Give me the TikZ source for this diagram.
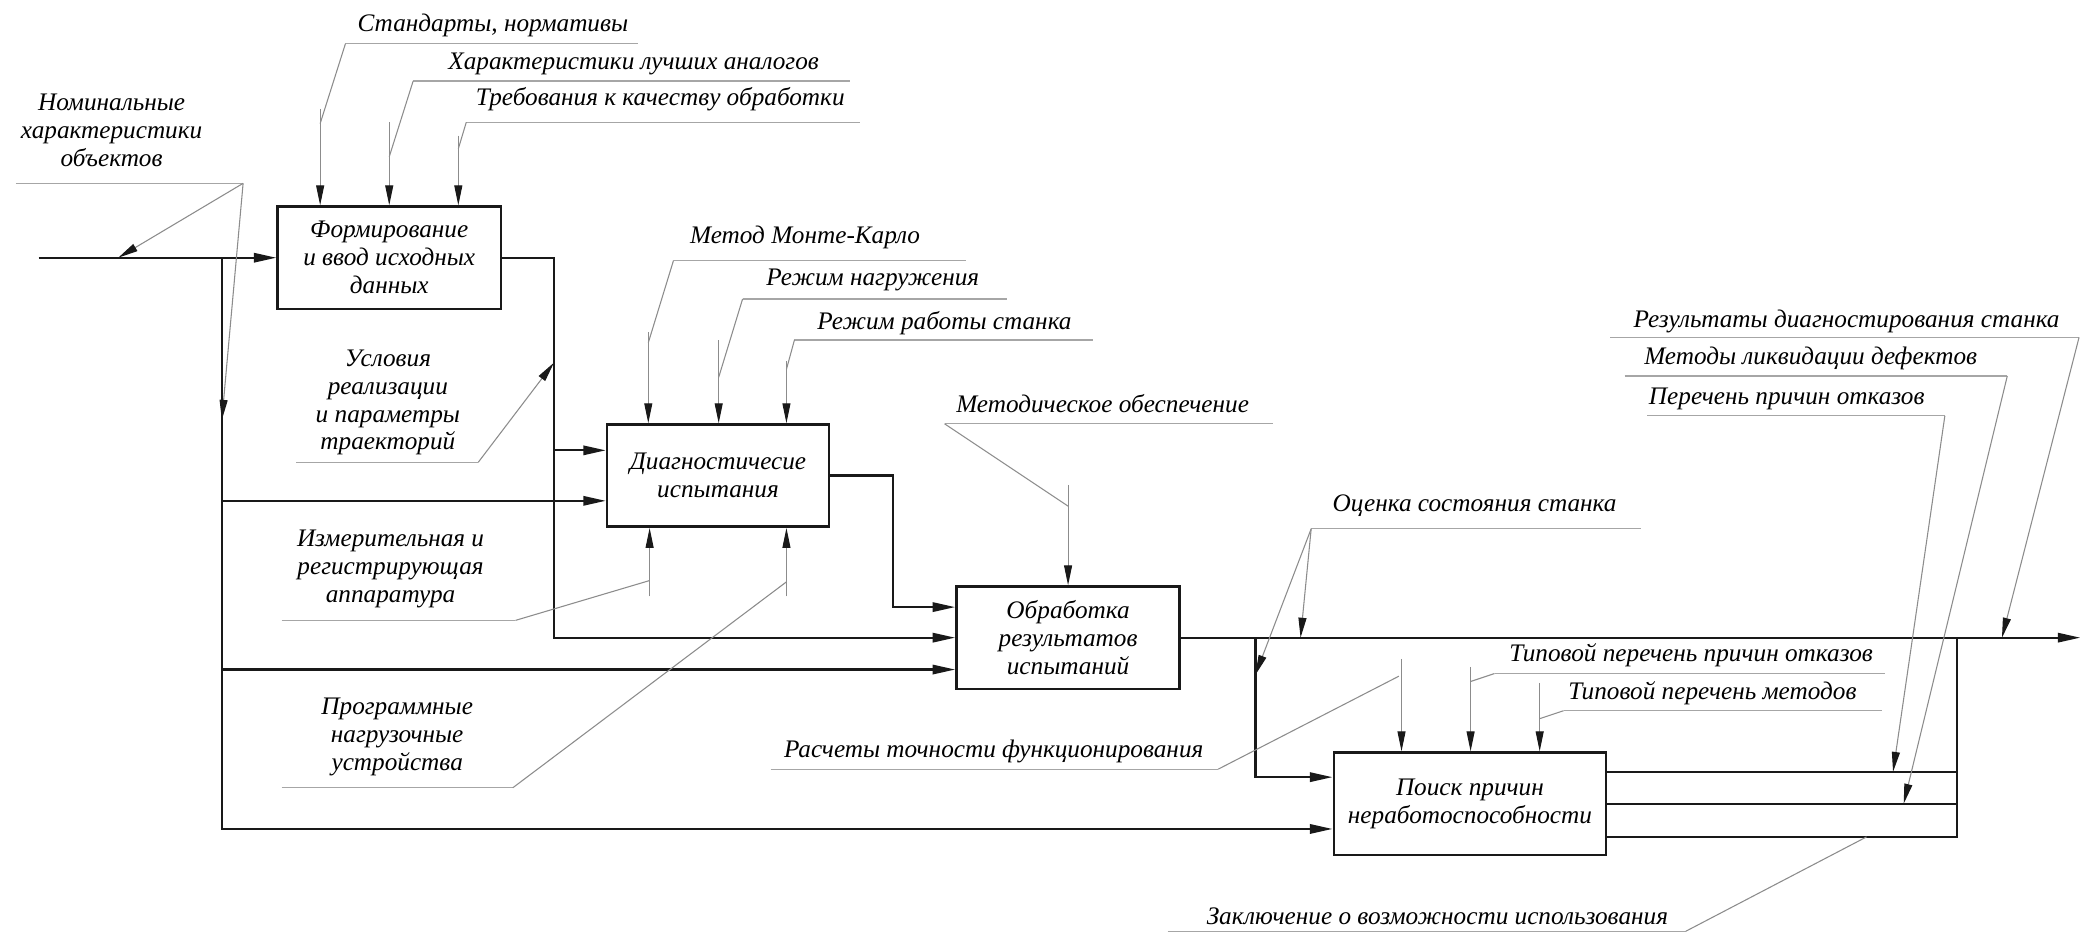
\documentclass[tikz,border=0pt]{standalone}
\usepackage{fontspec}
\setmainfont{Liberation Serif}
\usetikzlibrary{arrows.meta,calc}
\begin{document}
\begin{tikzpicture}[x=1pt,y=-1pt,
  font=\fontsize{19}{21}\selectfont\itshape,
  box/.style={draw=black!90,line width=1.9pt,minimum width=#1,minimum height=77pt,inner sep=0pt,align=center,text=black},
  lbl/.style={inner sep=0pt,align=center,text=black},
  flow/.style={line width=1.7pt,draw=black!90},
  flowa/.style={flow,-{Triangle[length=17pt,width=7pt]}},
  lead/.style={line width=0.8pt,draw=black!45},
  leada/.style={lead,-{Triangle[length=15pt,width=6pt,color=black!90]}},
  uline/.style={line width=0.9pt,draw=black!35}
]
\fill[white] (0,0) rectangle (1568,702);
\useasboundingbox (0,0) rectangle (1568,702);

% ---------- boxes
\node[box=168pt] (B1) at (293,194) {Формирование\\и ввод исходных\\данных};
\node[box=167pt] (B2) at (540.5,358) {Диагностичесие\\испытания};
\node[box=168pt] (B3) at (804,480) {Обработка\\результатов\\испытаний};
\node[box=205pt] (B4) at (1106.5,605) {Поиск причин\\неработоспособности};

% ---------- flow coordinates
\coordinate (in0) at (29,194);
\coordinate (jA) at (167,194);
\coordinate (a377) at (167,377);
\coordinate (a504) at (167,504);
\coordinate (jAb) at (167,624);
\coordinate (jB) at (417,194);
\coordinate (b339) at (417,339);
\coordinate (jBb) at (417,480);
\coordinate (jC) at (672,358);
\coordinate (jCb) at (672,457);
\coordinate (out) at (1566,480);
\coordinate (jD) at (945,480);
\coordinate (jDb) at (945,585);
\coordinate (bus) at (1473,480);
\coordinate (o1) at (1473,581);
\coordinate (o2) at (1473,605);
\coordinate (o3) at (1473,630);

% ---------- flows
\draw[flowa] (in0) -- (B1.west);
\draw[flowa] (jA) -- (jAb) -- (jAb -| B4.west);
\draw[flowa] (a377) -- (a377 -| B2.west);
\draw[flowa] (a504) -- (a504 -| B3.west);
\draw[flowa] (B1.east) -- (jB) -- (jBb) -- (B3.west);
\draw[flowa] (b339) -- (b339 -| B2.west);
\draw[flowa] (B2.east) -- (jC) -- (jCb) -- (jCb -| B3.west);
\draw[flowa] (B3.east) -- (out);
\draw[flowa] (jD) -- (jDb) -- (jDb -| B4.west);
\draw[flow] (o1 -| B4.east) -- (o1);
\draw[flow] (o2 -| B4.east) -- (o2);
\draw[flow] (o3 -| B4.east) -- (o3) -- (bus);

% ---------- labels
% 1
\node[lbl] (tSt) at (371,19) {Стандарты, нормативы};
\coordinate (uSt1) at (260,33); \coordinate (uSt2) at (480,33);
\coordinate (kSt) at (241,93); \coordinate (vSt) at (241,82);
\draw[uline] (uSt1) -- (uSt2);
\draw[lead] (uSt1) -- (kSt);
\draw[leada] (vSt) -- (vSt |- B1.north);
% 2
\node[lbl] (tXa) at (477,48) {Характеристики лучших аналогов};
\coordinate (uXa1) at (311,61); \coordinate (uXa2) at (640,61);
\coordinate (kXa) at (293,118); \coordinate (vXa) at (293,92);
\draw[uline] (uXa1) -- (uXa2);
\draw[lead] (uXa1) -- (kXa);
\draw[leada] (vXa) -- (vXa |- B1.north);
% 3
\node[lbl] (tTr) at (497,75) {Требования к качеству обработки};
\coordinate (uTr1) at (351,92); \coordinate (uTr2) at (647,92);
\coordinate (kTr) at (345,112); \coordinate (vTr) at (345,102);
\draw[uline] (uTr1) -- (uTr2);
\draw[lead] (uTr1) -- (kTr);
\draw[leada] (vTr) -- (vTr |- B1.north);
% 4
\node[lbl] (tNom) at (84,98) {Номинальные\\характеристики\\объектов};
\coordinate (uNo1) at (12,138); \coordinate (uNo2) at (183,138);
\coordinate (pNo1) at (89,194); \coordinate (pNo2) at (167,316);
\draw[uline] (uNo1) -- (uNo2);
\draw[leada] (uNo2) -- (pNo1);
\draw[leada] (uNo2) -- (pNo2);
% 5
\node[lbl] (tUs) at (292,303) {Условия\\реализации\\и параметры\\траекторий};
\coordinate (uUs1) at (223,348); \coordinate (uUs2) at (360,348);
\coordinate (pUs) at (417,273);
\draw[uline] (uUs1) -- (uUs2);
\draw[leada] (uUs2) -- (pUs);
% 6
\node[lbl] (tIz) at (294,428) {Измерительная и\\регистрирующая\\аппаратура};
\coordinate (uIz1) at (212,467); \coordinate (uIz2) at (388,467);
\coordinate (kIz) at (489,437); \coordinate (vIz) at (489,449);
\draw[uline] (uIz1) -- (uIz2);
\draw[lead] (uIz2) -- (kIz);
\draw[leada] (vIz) -- (vIz |- B2.south);
% 7
\node[lbl] (tPr) at (299,555) {Программные\\нагрузочные\\устройства};
\coordinate (uPr1) at (212,593); \coordinate (uPr2) at (386,593);
\coordinate (kPr) at (592,438); \coordinate (vPr) at (592,449);
\draw[uline] (uPr1) -- (uPr2);
\draw[lead] (uPr2) -- (kPr);
\draw[leada] (vPr) -- (vPr |- B2.south);
% 8
\node[lbl] (tMK) at (606,179) {Метод Монте-Карло};
\coordinate (uMK1) at (507,196); \coordinate (uMK2) at (727,196);
\coordinate (kMK) at (488,258); \coordinate (vMK) at (488,250);
\draw[uline] (uMK1) -- (uMK2);
\draw[lead] (uMK1) -- (kMK);
\draw[leada] (vMK) -- (vMK |- B2.north);
% 9
\node[lbl] (tRn) at (657,211) {Режим нагружения};
\coordinate (uRn1) at (559,225); \coordinate (uRn2) at (758,225);
\coordinate (kRn) at (541,284); \coordinate (vRn) at (541,256);
\draw[uline] (uRn1) -- (uRn2);
\draw[lead] (uRn1) -- (kRn);
\draw[leada] (vRn) -- (vRn |- B2.north);
% 10
\node[lbl] (tRr) at (711,243) {Режим работы станка};
\coordinate (uRr1) at (598,256); \coordinate (uRr2) at (823,256);
\coordinate (kRr) at (592,278); \coordinate (vRr) at (592,272);
\draw[uline] (uRr1) -- (uRr2);
\draw[lead] (uRr1) -- (kRr);
\draw[leada] (vRr) -- (vRr |- B2.north);
% 11
\node[lbl] (tMe) at (830,304) {Методическое обеспечение};
\coordinate (uMe1) at (711,319); \coordinate (uMe2) at (958,319);
\coordinate (kMe) at (804,381); \coordinate (vMe) at (804,365);
\draw[uline] (uMe1) -- (uMe2);
\draw[lead] (uMe1) -- (kMe);
\draw[leada] (vMe) -- (vMe |- B3.north);
% 12
\node[lbl] (tOc) at (1110,381) {Оценка состояния станка};
\coordinate (uOc1) at (987,398); \coordinate (uOc2) at (1235,398);
\coordinate (pOc1) at (979,480); \coordinate (pOc2) at (945,508);
\draw[uline] (uOc1) -- (uOc2);
\draw[leada] (uOc1) -- (pOc1);
\draw[leada] (uOc1) -- (pOc2);
% 13
\node[lbl] (tRd) at (1390,242) {Результаты диагностирования станка};
\coordinate (uRd1) at (1212,254); \coordinate (uRd2) at (1565,254);
\coordinate (pRd) at (1507,480);
\draw[uline] (uRd1) -- (uRd2);
\draw[leada] (uRd2) -- (pRd);
% 14
\node[lbl] (tMl) at (1363,270) {Методы ликвидации дефектов};
\coordinate (uMl1) at (1223,283); \coordinate (uMl2) at (1511,283);
\coordinate (pMl) at (1433,605);
\draw[uline] (uMl1) -- (uMl2);
\draw[leada] (uMl2) -- (pMl);
% 15
\node[lbl] (tPp) at (1345,300) {Перечень причин отказов};
\coordinate (uPp1) at (1240,313); \coordinate (uPp2) at (1464,313);
\coordinate (pPp) at (1425,581);
\draw[uline] (uPp1) -- (uPp2);
\draw[leada] (uPp2) -- (pPp);
% 16
\node[lbl] (tTp) at (1273,493) {Типовой перечень причин отказов};
\coordinate (uTp1) at (1125,507); \coordinate (uTp2) at (1419,507);
\coordinate (kTp) at (1107,513); \coordinate (vTp) at (1107,502);
\draw[uline] (uTp1) -- (uTp2);
\draw[lead] (uTp1) -- (kTp);
\draw[leada] (vTp) -- (vTp |- B4.north);
% 17
\node[lbl] (tTm) at (1289,522) {Типовой перечень методов};
\coordinate (uTm1) at (1177,535); \coordinate (uTm2) at (1417,535);
\coordinate (kTm) at (1159,541); \coordinate (vTm) at (1159,514);
\draw[uline] (uTm1) -- (uTm2);
\draw[lead] (uTm1) -- (kTm);
\draw[leada] (vTm) -- (vTm |- B4.north);
% 18
\node[lbl] (tRt) at (748,566) {Расчеты точности функционирования};
\coordinate (uRt1) at (580,579); \coordinate (uRt2) at (917,579);
\coordinate (kRt) at (1053,509); \coordinate (vRt) at (1055,496);
\draw[uline] (uRt1) -- (uRt2);
\draw[lead] (uRt2) -- (kRt);
\draw[leada] (vRt) -- (vRt |- B4.north);
% 19
\node[lbl] (tZk) at (1082,690) {Заключение о возможности использования};
\coordinate (uZk1) at (879,701); \coordinate (uZk2) at (1269,701);
\coordinate (pZk) at (1405,630);
\draw[uline] (uZk1) -- (uZk2);
\draw[lead] (uZk2) -- (pZk);
\end{tikzpicture}
\end{document}
